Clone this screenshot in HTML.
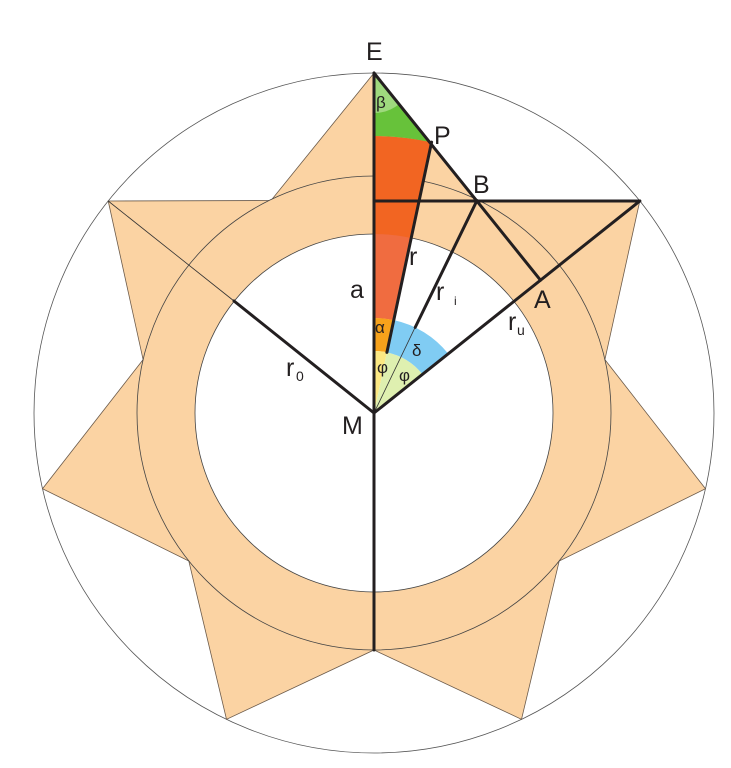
<!DOCTYPE html>
<html><head><style>body{margin:0;background:#fff}svg{display:block}text{font-family:"Liberation Sans",sans-serif;fill:#231f20}</style></head>
<body>
<svg width="731" height="768" viewBox="0 0 731 768" xmlns="http://www.w3.org/2000/svg">
<circle cx="374" cy="413" r="340" fill="none" stroke="#555" stroke-width="0.8"/>
<polygon points="374,73 477,200.5 639.8,201 604.9,359.6 705.5,488.7 559.2,561 521.5,719.3 374,650 226.5,719.3 188.8,561 42.5,488.7 143.1,359.6 108.2,201 271,200.5" fill="#fbd3a3" stroke="#6b5a4a" stroke-width="0.8"/>
<circle cx="374" cy="413" r="237" fill="#fbd3a3" stroke="#444" stroke-width="0.8"/>
<circle cx="374" cy="413" r="179" fill="#fff" stroke="#444" stroke-width="0.8"/>
<line x1="234" y1="301" x2="108.2" y2="201" stroke="#333" stroke-width="0.8"/>
<!-- red -->
<path d="M374,318 L374,136 A277,277 0 0 1 431.6,142.1 L393.8,320.1 A95,95 0 0 0 374,318 Z" fill="#f26522"/>
<path d="M374,318 L374,234 A179,179 0 0 1 411.2,238 L393.8,320.1 A95,95 0 0 0 374,318 Z" fill="#f06c40"/>
<path d="M374,351 L374,318 A95,95 0 0 1 393.8,320.1 L386.9,352.4 A62,62 0 0 0 374,351 Z" fill="#f7a21b"/>
<path d="M374,413 L374,351 A62,62 0 0 1 386.9,352.4 Z" fill="#fce883"/>
<path d="M374,413 L386.9,352.4 A62,62 0 0 1 422.5,374.3 Z" fill="#dff0b0"/>
<path d="M393.8,320.1 A95,95 0 0 1 448.3,353.8 L422.5,374.3 A62,62 0 0 0 386.9,352.4 Z" fill="#80ccf3"/>
<path d="M374,73 L374,136 A277,277 0 0 1 430,142 Z" fill="#67c23a"/>
<path d="M374,73 L374,113 A40,40 0 0 0 399.1,104.1 Z" fill="#9fd97e"/>
<line x1="374" y1="413" x2="476" y2="200.5" stroke="#333" stroke-width="0.8"/>
<g stroke="#231f20" stroke-width="3" fill="none" stroke-linecap="round">
<line x1="374" y1="73" x2="374" y2="650"/>
<line x1="374" y1="201" x2="639.8" y2="201"/>
<line x1="374" y1="73" x2="540.5" y2="280.2"/>
<line x1="374" y1="413" x2="639.8" y2="201"/>
<line x1="374" y1="413" x2="234" y2="301"/>
<line x1="477" y1="200.5" x2="415.2" y2="327.4"/>
<line x1="431.6" y1="142.1" x2="386.9" y2="352.4"/>
</g>
<g font-size="25">
<text x="366" y="60">E</text>
<text x="434" y="144">P</text>
<text x="473" y="193">B</text>
<text x="534" y="308">A</text>
<text x="342" y="434">M</text>
<text x="350" y="298">a</text>
<text x="409" y="265">r</text>
<text x="436" y="300">r</text><text x="454" y="305" font-size="12">i</text>
<text x="508" y="330">r</text><text x="517" y="335" font-size="14">u</text>
<text x="286" y="376">r</text><text x="296" y="381" font-size="14">0</text>
</g>
<g font-size="17">
<text x="376" y="108">β</text>
<text x="375" y="333">α</text>
<text x="412" y="356">δ</text>
<text x="377" y="373">φ</text>
<text x="399" y="381">φ</text>
</g>
</svg>
</body></html>
